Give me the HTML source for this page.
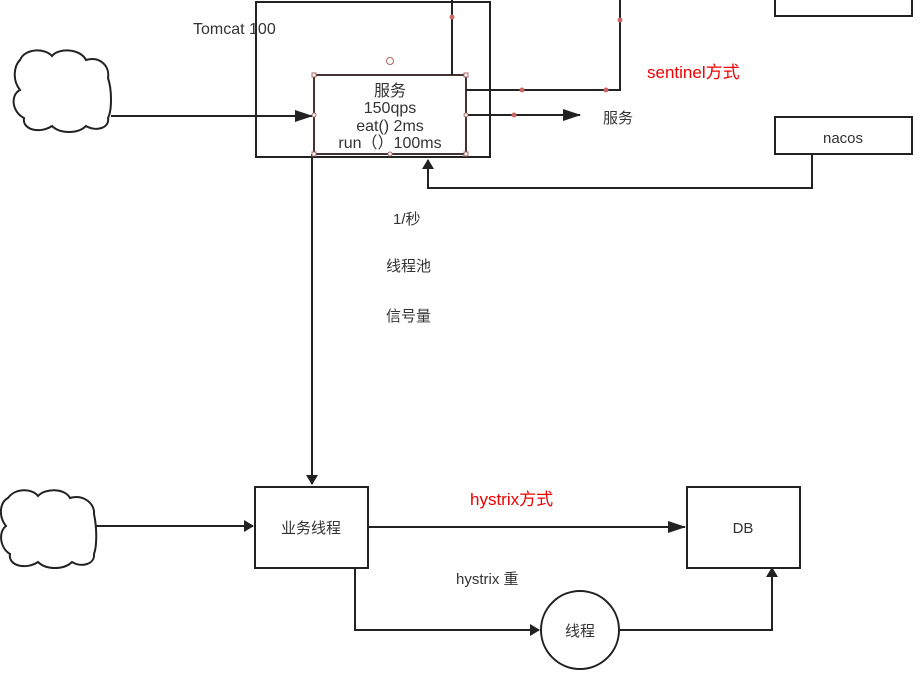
<!DOCTYPE html>
<html><head><meta charset="utf-8"><style>
body{margin:0;background:#fff;width:921px;height:670px;overflow:hidden}
text{font-family:"Liberation Sans","Noto Sans CJK SC",sans-serif;fill:#333}
</style></head><body>
<svg width="921" height="670" viewBox="0 0 921 670">
<defs><marker id="a" markerWidth="10" markerHeight="12" refX="9" refY="6" orient="auto" markerUnits="userSpaceOnUse"><path d="M0,0 L10,6 L0,12 z" fill="#222"/></marker>
<marker id="b" markerWidth="18" markerHeight="12" refX="17" refY="6" orient="auto" markerUnits="userSpaceOnUse"><path d="M0,0 L18,6 L0,12 z" fill="#222"/></marker></defs>
<g fill="none" stroke="#222" stroke-width="2">
<rect x="256" y="2" width="234" height="155"/>
<rect x="314" y="75" width="152" height="79" stroke="#433" stroke-width="2"/>
<rect x="775" y="-5" width="137" height="21"/>
<rect x="775" y="117" width="137" height="37"/>
<path d="M812,154 V188 H428 V160" marker-end="url(#a)"/>
<path d="M452,0 V75"/>
<path d="M466,90 H620 V0"/>
<path d="M466,115 H580" marker-end="url(#b)"/>
<path d="M111,116 H312" marker-end="url(#b)"/>
<path d="M312,154 V484" marker-end="url(#a)"/>
<path d="M20,60 C25,48 45,48 52,56 C58,48 80,48 86,60 C100,56 110,66 108,78 C112,90 112,110 108,118 C110,128 96,132 86,126 C78,134 60,134 52,126 C40,134 22,130 24,118 C12,112 10,95 20,90 C12,80 14,66 20,60 Z"/>
<path d="M95,526 H253" marker-end="url(#a)"/>
<path d="M8,498 C15,488 32,488 38,496 C45,488 65,488 70,498 C84,494 95,504 94,514 C97,528 97,546 94,554 C95,564 82,568 72,562 C64,570 46,570 38,562 C26,570 8,566 10,554 C0,548 -2,532 6,526 C-2,516 0,502 8,498 Z"/>
<rect x="255" y="487" width="113" height="81"/>
<rect x="687" y="487" width="113" height="81"/>
<path d="M368,527 H685" marker-end="url(#b)"/>
<path d="M355,568 V630 H539" marker-end="url(#a)"/>
<circle cx="580" cy="630" r="39"/>
<path d="M619,630 H772 V568" marker-end="url(#a)"/>
</g>
<g fill="#fff" stroke="#a66" stroke-width="1">
<circle cx="390" cy="61" r="3.5"/>
<rect x="312" y="73" width="4" height="4"/><rect x="464" y="73" width="4" height="4"/>
<rect x="312" y="152" width="4" height="4"/><rect x="464" y="152" width="4" height="4"/>
<circle cx="314" cy="115" r="2"/><circle cx="466" cy="115" r="2"/><circle cx="390" cy="154" r="2"/>
</g>
<g fill="#c66"><circle cx="452" cy="17" r="2.5"/><circle cx="620" cy="20" r="2.5"/><circle cx="522" cy="90" r="2.5"/><circle cx="606" cy="90" r="2.5"/><circle cx="514" cy="115" r="2.5"/></g>
<text x="193" y="34" font-size="16">Tomcat 100</text>
<g font-size="16" text-anchor="middle"><text x="390" y="96">服务</text><text x="390" y="113">150qps</text><text x="390" y="131">eat() 2ms</text><text x="390" y="148">run（）100ms</text></g>
<text x="603" y="123" font-size="15">服务</text>
<text x="843" y="143" font-size="15" text-anchor="middle">nacos</text>
<text x="647" y="78" font-size="17" style="fill:#e00">sentinel方式</text>
<text x="393" y="224" font-size="15">1/秒</text>
<text x="386" y="271" font-size="15">线程池</text>
<text x="386" y="321" font-size="15">信号量</text>
<text x="470" y="505" font-size="17" style="fill:#e00">hystrix方式</text>
<text x="311" y="533" font-size="15" text-anchor="middle">业务线程</text>
<text x="743" y="533" font-size="15" text-anchor="middle">DB</text>
<text x="456" y="584" font-size="15">hystrix 重</text>
<text x="580" y="636" font-size="15" text-anchor="middle">线程</text>
</svg>
</body></html>
